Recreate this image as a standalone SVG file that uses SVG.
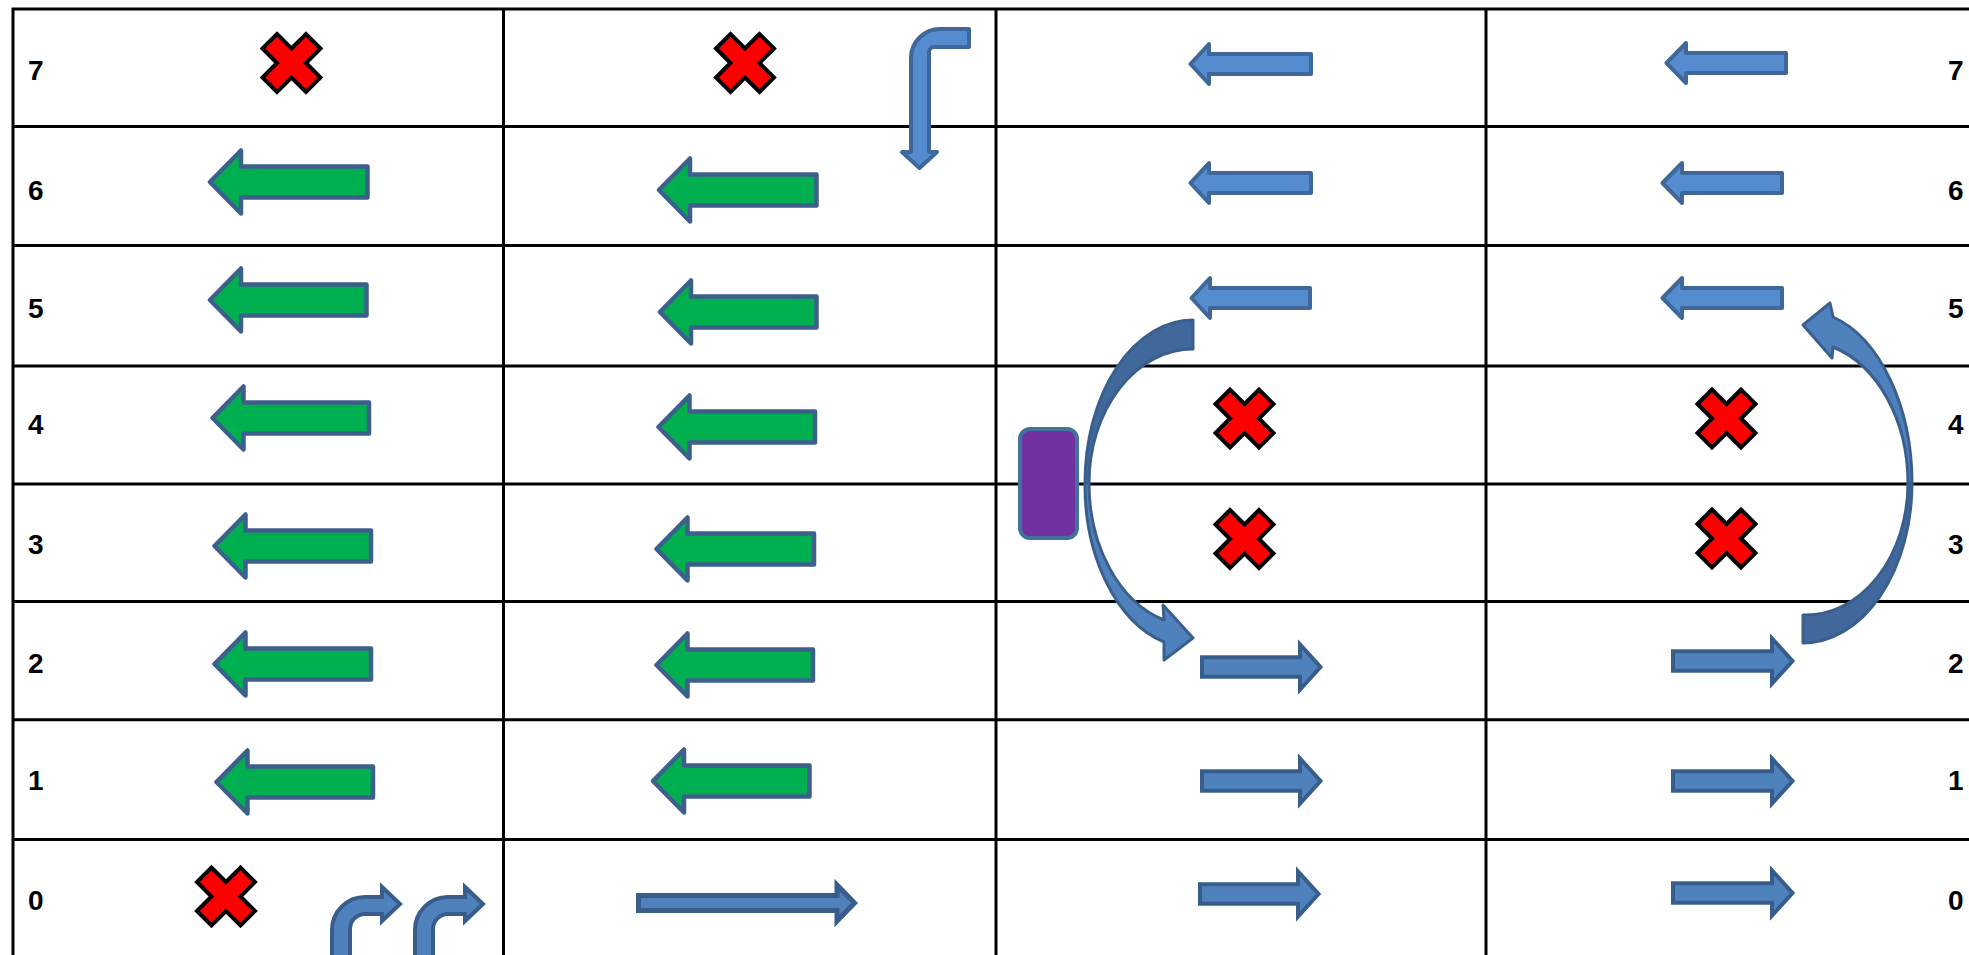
<svg xmlns="http://www.w3.org/2000/svg" width="1969" height="955" viewBox="0 0 1969 955">
<style>
.grid{stroke:#000;stroke-width:3;fill:none}
.lbl{font-family:"Liberation Sans",Arial,sans-serif;font-weight:bold;font-size:28px;fill:#000}
.green{fill:#00b050;stroke:#3c5f8c;stroke-width:4.5;stroke-linejoin:round}
.bl{fill:#558cd0;stroke:#3f6899;stroke-width:4;stroke-linejoin:round}
.br{fill:#4f81bd;stroke:#385d8a;stroke-width:4;stroke-linejoin:miter}
.x{fill:#ff0000;stroke:#000;stroke-width:4;stroke-linejoin:miter}
.dark{fill:#41689b;stroke:#3a5f8e;stroke-width:3;stroke-linejoin:round}
.light{fill:#4f81bd;stroke:#3a5f8e;stroke-width:3;stroke-linejoin:round}
</style>
<defs>
<polygon id="xmark" points="0,-14.5 14.5,-29 29,-14.5 14.5,0 29,14.5 14.5,29 0,14.5 -14.5,29 -29,14.5 -14.5,0 -29,-14.5 -14.5,-29"/>
</defs>
<rect width="1969" height="955" fill="#fff"/>
<g id="table">
<path class="grid" d="M13,9H1969M13,126.5H1969M13,245.5H1969M13,366H1969M13,484H1969M13,601.5H1969M13,719.7H1969M13,839.5H1969M13,7.5V955M503.5,7.5V955M996,7.5V955M1486,7.5V955"/>
</g>
<g id="labels-left">
<text class="lbl" x="28" y="80">7</text>
<text class="lbl" x="28" y="200">6</text>
<text class="lbl" x="28" y="318">5</text>
<text class="lbl" x="28" y="434">4</text>
<text class="lbl" x="28" y="554">3</text>
<text class="lbl" x="28" y="673">2</text>
<text class="lbl" x="28" y="790">1</text>
<text class="lbl" x="28" y="910">0</text>
</g>
<g id="labels-right">
<text class="lbl" x="1948" y="80">7</text>
<text class="lbl" x="1948" y="200">6</text>
<text class="lbl" x="1948" y="318">5</text>
<text class="lbl" x="1948" y="434">4</text>
<text class="lbl" x="1948" y="554">3</text>
<text class="lbl" x="1948" y="673">2</text>
<text class="lbl" x="1948" y="790">1</text>
<text class="lbl" x="1948" y="910">0</text>
</g>
<g id="crosses">
<use href="#xmark" class="x" x="291.5" y="63"/>
<use href="#xmark" class="x" x="745" y="63"/>
<use href="#xmark" class="x" x="226" y="896.5"/>
<use href="#xmark" class="x" x="1244.5" y="418.5"/>
<use href="#xmark" class="x" x="1244.5" y="539"/>
<use href="#xmark" class="x" x="1726.5" y="418.5"/>
<use href="#xmark" class="x" x="1726.5" y="538.5"/>
</g>
<g id="green-arrows">
<path class="green" d="M210,182L241,150.5V166.5H367.5V197.5H241V213.5Z"/>
<path class="green" d="M210,300L241,268.5V284.5H366.5V315.5H241V331.5Z"/>
<path class="green" d="M212.5,418L243.5,386.5V402.5H369V433.5H243.5V449.5Z"/>
<path class="green" d="M214.5,546L245.5,514.5V530.5H371V561.5H245.5V577.5Z"/>
<path class="green" d="M214.5,664L245.5,632.5V648.5H371V679.5H245.5V695.5Z"/>
<path class="green" d="M216.5,782L247.5,750.5V766.5H373V797.5H247.5V813.5Z"/>
<path class="green" d="M659,190L690,158.5V174.5H816.5V205.5H690V221.5Z"/>
<path class="green" d="M660,312L691,280.5V296.5H816.5V327.5H691V343.5Z"/>
<path class="green" d="M658.5,427L689.5,395.5V411.5H815V442.5H689.5V458.5Z"/>
<path class="green" d="M656.5,549L687.5,517.5V533.5H814V564.5H687.5V580.5Z"/>
<path class="green" d="M656.5,665L687.5,633.5V649.5H813V680.5H687.5V696.5Z"/>
<path class="green" d="M653,781L684,749.5V765.5H809.5V796.5H684V812.5Z"/>
</g>
<g id="blue-left-arrows">
<path class="bl" d="M1190.5,64L1209,44V54H1311V74H1209V84Z"/>
<path class="bl" d="M1190.5,183L1209,163V173H1311V193H1209V203Z"/>
<path class="bl" d="M1191.5,298L1210,278V288H1310V308H1210V318Z"/>
<path class="bl" d="M1666.5,63L1686,43V53H1786V73H1686V83Z"/>
<path class="bl" d="M1662.5,183L1682,163V173H1782V193H1682V203Z"/>
<path class="bl" d="M1662.5,298L1682,278V288H1782V308H1682V318Z"/>
</g>
<g id="blue-right-arrows">
<path class="br" d="M1202,657.3H1300V644.5L1320.5,667L1300,689.5V676.7H1202Z"/>
<path class="br" d="M1673,651.3H1772V638.5L1792.5,661L1772,683.5V670.7H1673Z"/>
<path class="br" d="M1202,771.3H1300V758.5L1320.5,781L1300,803.5V790.7H1202Z"/>
<path class="br" d="M1673,771.3H1772V758.5L1792.5,781L1772,803.5V790.7H1673Z"/>
<path class="br" d="M1200,884.3H1298V871.5L1318.5,894L1298,916.5V903.7H1200Z"/>
<path class="br" d="M1673,883.3H1772V870.5L1792.5,893L1772,915.5V902.7H1673Z"/>
<path class="br" style="stroke-width:5" d="M638.5,895.5H837V885L854.5,903L837,921V910.5H638.5Z"/>
</g>
<g id="bent-arrows">
<path class="bl" d="M929,152L937,152L919.5,168L902,152L911,152L911,58A29,29 0 0 1 940,29L969,29L969,47L934,47A5,5 0 0 0 929,52Z"/>
<path class="br" d="M332,960L332,930A33,33 0 0 1 365,897L382,897L382,887L400,904L382,921L382,914L365,914A15,15 0 0 0 350,929L350,960Z"/>
<path class="br" d="M415,960L415,930A33,33 0 0 1 448,897L465,897L465,887L483,904L465,921L465,914L448,914A15,15 0 0 0 433,929L433,960Z"/>
</g>
<g id="purple-box">
<rect x="1020" y="429" width="57" height="109" rx="10" fill="#7030a0" stroke="#41719c" stroke-width="4"/>
</g>
<g id="curved-arrows">
<path class="dark" d="M1193,320A108,163 0 0 0 1085,483L1089,483A104,134 0 0 1 1193,349Z"/>
<path class="light" d="M1085,483A108,163 0 0 0 1164,642L1164,660L1193,638L1163,605L1164,620A104,142 0 0 1 1089,483Z"/>
<path class="dark" d="M1912,483A109,160 0 0 1 1803,643L1803,615A102,132 0 0 0 1908,483Z"/>
<path class="light" d="M1912,483A109,173 0 0 0 1833,317L1830,303L1803,325L1832,358L1833,347A105,142 0 0 1 1908,483Z"/>
</g>
</svg>
